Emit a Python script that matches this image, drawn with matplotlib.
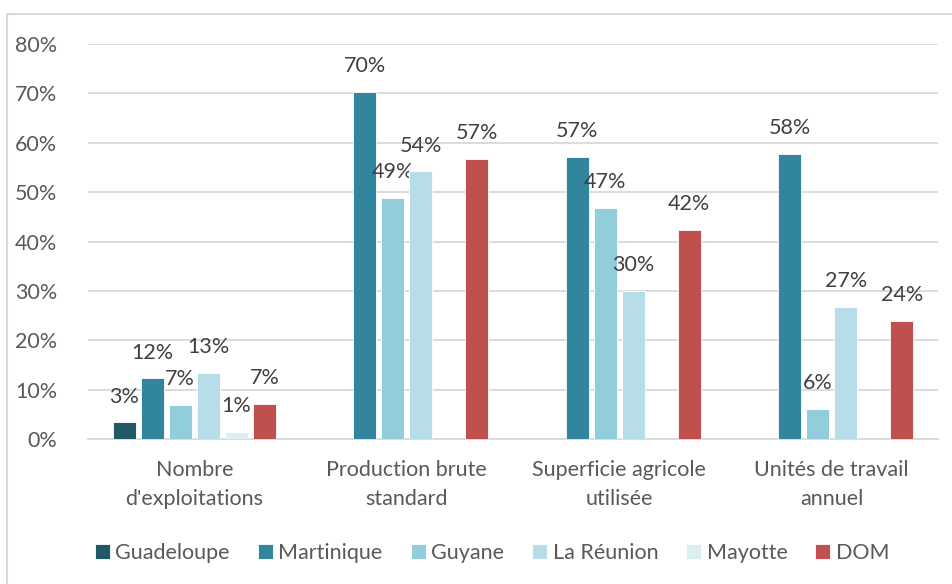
import numpy as np
import matplotlib.pyplot as plt
from matplotlib.patches import Rectangle

plt.rcParams['font.family'] = ['Lato', 'DejaVu Sans']

categories = ["Nombre\nd'exploitations", "Production brute\nstandard",
              "Superficie agricole\nutilisée", "Unités de travail\nannuel"]
series = ["Guadeloupe", "Martinique", "Guyane", "La Réunion", "Mayotte", "DOM"]
guadeloupe = [3.4, np.nan, np.nan, np.nan]
martinique = [12.3, 70.3, 57.2, 57.8]
guyane = [6.9, 48.8, 46.8, 6.1]
reunion = [13.4, 54.2, 30.0, 26.7]
mayotte = [1.4, np.nan, np.nan, np.nan]
dom = [7.1, 56.7, 42.4, 23.9]
values = [guadeloupe, martinique, guyane, reunion, mayotte, dom]
colors = ["#215967", "#31859C", "#92CDDC", "#B7DEE8", "#DAEEF3", "#C0504D"]

fs = 15.5

fig = plt.figure(figsize=(9.52, 5.84), dpi=100)
ax = fig.add_axes([88/952, 1-439/584, 850/952, 395/584])

x = np.arange(len(categories))
step = 0.132
width = 0.108
for i in range(len(series)):
  v = np.array(values[i], dtype=float)
  pos = x + (i - 2.5)*step
  ax.bar(pos, np.nan_to_num(v), width, color=colors[i], label=series[i],
         edgecolor="white", linewidth=0.6, zorder=3)
  for p, val in zip(pos, v):
    if np.isnan(val):
      continue
    ax.annotate("%d%%" % round(val), (p, val), xytext=(0, 18.5), textcoords="offset points",
                ha="center", va="center", fontsize=fs, color="#404040")

ax.set_xlim(-0.5, 3.5)
ax.set_ylim(0, 80)
ax.set_yticks(range(0, 81, 10))
ax.set_yticklabels(["%d%%" % t for t in range(0, 81, 10)], fontsize=fs, color="#595959")
ax.set_xticks(x)
ax.set_xticklabels(categories, fontsize=fs, color="#595959", linespacing=1.6)
ax.tick_params(axis="both", length=0)
ax.tick_params(axis="x", pad=15)
ax.tick_params(axis="y", pad=22)
ax.yaxis.grid(True, color="#D9D9D9", linewidth=1.3, zorder=0)
for s in ["top", "right", "left"]:
  ax.spines[s].set_visible(False)
ax.spines["bottom"].set_color("#D9D9D9")
ax.spines["bottom"].set_linewidth(1.3)

leg = fig.legend(loc="center", bbox_to_anchor=(0.517, 0.053), ncol=6, frameon=False,
                 fontsize=fs, handlelength=0.7, handleheight=0.7, handletextpad=0.25,
                 columnspacing=1.3)
for t in leg.get_texts():
  t.set_color("#595959")

fig.patches.append(Rectangle((7/952, -0.1), 1.2, 1.1 - 14/584, transform=fig.transFigure,
                             fill=False, edgecolor="#D9D9D9", linewidth=1.5))

fig.savefig("out.png", dpi=100)
